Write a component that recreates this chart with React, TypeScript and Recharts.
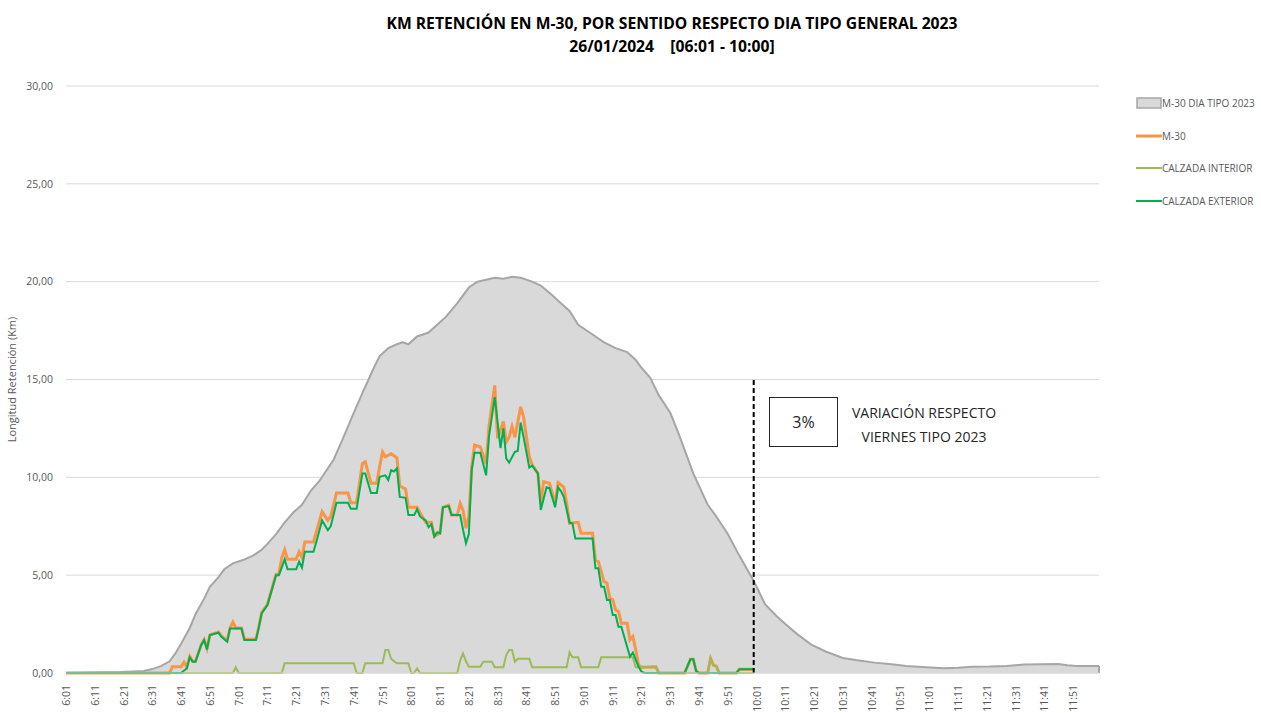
import React from "react";
import {
  ComposedChart,
  Area,
  Line,
  XAxis,
  YAxis,
  CartesianGrid,
  ReferenceLine,
} from "recharts";

if (typeof document !== "undefined") document.body.style.margin = "0";

// [hora, km]
const diaTipo2023: [string, number][] = [
  ["6:01", 0], ["6:20", 0.05], ["6:28", 0.1], ["6:31", 0.2], ["6:34", 0.35], ["6:37", 0.6],
  ["6:39", 1.0], ["6:41", 1.5], ["6:44", 2.3], ["6:46", 3.0], ["6:49", 3.8], ["6:51", 4.4],
  ["6:54", 4.9], ["6:56", 5.3], ["6:59", 5.6], ["7:03", 5.8], ["7:06", 6.0], ["7:09", 6.3],
  ["7:11", 6.6], ["7:14", 7.1], ["7:17", 7.7], ["7:20", 8.2], ["7:23", 8.6], ["7:26", 9.3],
  ["7:29", 9.8], ["7:34", 10.9], ["7:37", 11.9], ["7:41", 13.3], ["7:44", 14.3], ["7:48", 15.6],
  ["7:50", 16.2], ["7:53", 16.6], ["7:56", 16.8], ["7:58", 16.9], ["8:00", 16.8], ["8:03", 17.2],
  ["8:07", 17.4], ["8:10", 17.8], ["8:13", 18.2], ["8:17", 18.9], ["8:21", 19.7], ["8:24", 20.0],
  ["8:27", 20.1], ["8:30", 20.2], ["8:33", 20.15], ["8:36", 20.25], ["8:39", 20.2], ["8:43", 20.0],
  ["8:46", 19.8], ["8:50", 19.3], ["8:53", 18.9], ["8:56", 18.5], ["8:59", 17.8], ["9:03", 17.4],
  ["9:08", 16.9], ["9:12", 16.6], ["9:16", 16.4], ["9:19", 16.0], ["9:21", 15.6], ["9:24", 15.1],
  ["9:27", 14.2], ["9:31", 13.3], ["9:34", 12.2], ["9:39", 10.2], ["9:44", 8.6], ["9:47", 8.0],
  ["9:51", 7.1], ["9:55", 6.0], ["10:00", 4.7], ["10:04", 3.5], ["10:08", 2.9], ["10:11", 2.5],
  ["10:15", 2.0], ["10:20", 1.45], ["10:25", 1.1], ["10:31", 0.77], ["10:36", 0.65], ["10:42", 0.53],
  ["10:48", 0.45], ["10:53", 0.36], ["11:00", 0.3], ["11:06", 0.24], ["11:11", 0.27], ["11:16", 0.32],
  ["11:22", 0.33], ["11:28", 0.36], ["11:34", 0.44], ["11:40", 0.45], ["11:46", 0.46], ["11:49", 0.4],
  ["11:52", 0.36], ["12:00", 0.36],
];

const m30: [string, number][] = [
  ["6:01", 0], ["6:37", 0], ["6:38", 0.32], ["6:41", 0.32], ["6:42", 0.55], ["6:43", 0.3],
  ["6:44", 0.85], ["6:45", 0.6], ["6:46", 0.6], ["6:48", 1.45], ["6:49", 1.7], ["6:50", 1.25],
  ["6:51", 1.95], ["6:54", 2.1], ["6:55", 1.9], ["6:57", 1.65], ["6:58", 2.3], ["6:59", 2.6],
  ["7:00", 2.3], ["7:02", 2.3], ["7:03", 1.72], ["7:07", 1.72], ["7:08", 2.35], ["7:09", 3.1],
  ["7:11", 3.5], ["7:14", 5.05], ["7:15", 5.1], ["7:16", 5.9], ["7:17", 6.3], ["7:18", 5.81],
  ["7:21", 5.81], ["7:22", 6.2], ["7:23", 5.9], ["7:24", 6.7], ["7:27", 6.7], ["7:28", 7.2],
  ["7:30", 8.25], ["7:32", 7.8], ["7:33", 8.0], ["7:35", 9.2], ["7:39", 9.2], ["7:40", 8.7],
  ["7:42", 8.7], ["7:44", 10.7], ["7:45", 10.8], ["7:47", 9.7], ["7:49", 9.7], ["7:50", 10.55],
  ["7:51", 11.3], ["7:52", 11.05], ["7:54", 11.2], ["7:55", 11.1], ["7:56", 11.0], ["7:57", 9.56],
  ["7:59", 9.4], ["8:00", 8.47], ["8:03", 8.47], ["8:04", 8.2], ["8:06", 7.7], ["8:08", 7.7],
  ["8:09", 7.0], ["8:11", 7.14], ["8:12", 8.47], ["8:14", 8.58], ["8:15", 8.07], ["8:17", 8.07],
  ["8:18", 8.67], ["8:19", 8.3], ["8:20", 7.4], ["8:21", 8.0], ["8:22", 10.55], ["8:23", 11.65],
  ["8:25", 11.55], ["8:27", 10.7], ["8:28", 12.6], ["8:30", 14.7], ["8:31", 12.0], ["8:33", 12.85],
  ["8:34", 11.8], ["8:35", 12.05], ["8:36", 12.6], ["8:37", 12.05], ["8:39", 13.6], ["8:40", 13.1],
  ["8:42", 11.05], ["8:43", 10.65], ["8:45", 10.2], ["8:46", 8.67], ["8:47", 9.78], ["8:49", 9.7],
  ["8:51", 8.67], ["8:52", 9.73], ["8:54", 9.5], ["8:55", 8.67], ["8:56", 7.65], ["8:59", 7.7],
  ["9:00", 7.14], ["9:04", 7.14], ["9:05", 5.77], ["9:06", 5.7], ["9:07", 5.18], ["9:08", 4.67],
  ["9:09", 4.6], ["9:10", 3.82], ["9:11", 3.75], ["9:12", 3.22], ["9:13", 3.15], ["9:14", 2.54],
  ["9:16", 2.54], ["9:17", 1.69], ["9:18", 1.86], ["9:19", 1.18], ["9:20", 0.41], ["9:21", 0.3],
  ["9:26", 0.32], ["9:27", 0], ["9:36", 0], ["9:38", 0.7], ["9:39", 0.7], ["9:40", 0.1],
  ["9:41", 0], ["9:44", 0], ["9:45", 0.75], ["9:46", 0.4], ["9:47", 0.35], ["9:48", 0],
  ["9:54", 0], ["9:55", 0.19], ["10:00", 0.19],
];

const calzadaInterior: [string, number][] = [
  ["6:01", 0], ["6:59", 0], ["7:00", 0.29], ["7:01", 0], ["7:16", 0], ["7:17", 0.5],
  ["7:41", 0.5], ["7:42", 0], ["7:44", 0], ["7:45", 0.5], ["7:51", 0.5], ["7:52", 1.18],
  ["7:53", 1.18], ["7:54", 0.73], ["7:55", 0.6], ["7:56", 0.5], ["8:00", 0.5], ["8:01", 0],
  ["8:02", 0], ["8:03", 0.24], ["8:04", 0], ["8:17", 0], ["8:18", 0.66], ["8:19", 1.0],
  ["8:20", 0.6], ["8:21", 0.32], ["8:25", 0.32], ["8:26", 0.58], ["8:29", 0.58], ["8:30", 0.3],
  ["8:33", 0.3], ["8:34", 0.92], ["8:35", 1.18], ["8:36", 1.18], ["8:37", 0.58], ["8:38", 0.73],
  ["8:42", 0.73], ["8:43", 0.3], ["8:55", 0.3], ["8:56", 1.06], ["8:57", 0.8], ["8:59", 0.8],
  ["9:00", 0.3], ["9:06", 0.3], ["9:07", 0.8], ["9:18", 0.8], ["9:19", 0.3], ["9:26", 0.3],
  ["9:27", 0], ["9:44", 0], ["9:45", 0.75], ["9:46", 0.4], ["9:47", 0.35], ["9:48", 0],
  ["10:00", 0],
];

const calzadaExterior: [string, number][] = [
  ["6:01", 0], ["6:41", 0], ["6:43", 0.24], ["6:44", 0.8], ["6:45", 0.58], ["6:46", 0.58],
  ["6:48", 1.43], ["6:49", 1.69], ["6:50", 1.2], ["6:51", 1.94], ["6:54", 2.06], ["6:55", 1.85],
  ["6:57", 1.6], ["6:58", 2.28], ["7:02", 2.28], ["7:03", 1.69], ["7:07", 1.69], ["7:08", 2.32],
  ["7:09", 3.05], ["7:11", 3.47], ["7:14", 5.0], ["7:15", 5.0], ["7:17", 5.81], ["7:18", 5.3],
  ["7:21", 5.3], ["7:22", 5.69], ["7:23", 5.38], ["7:24", 6.2], ["7:27", 6.2], ["7:28", 6.7],
  ["7:30", 7.8], ["7:32", 7.3], ["7:33", 7.5], ["7:35", 8.7], ["7:39", 8.7], ["7:40", 8.4],
  ["7:42", 8.4], ["7:44", 10.2], ["7:45", 10.2], ["7:47", 9.2], ["7:49", 9.2], ["7:50", 10.03],
  ["7:52", 10.1], ["7:53", 9.86], ["7:54", 10.37], ["7:55", 10.3], ["7:56", 10.46], ["7:57", 9.0],
  ["7:59", 8.95], ["8:00", 8.07], ["8:02", 8.07], ["8:03", 8.37], ["8:04", 8.0], ["8:06", 7.8],
  ["8:07", 7.45], ["8:08", 7.6], ["8:09", 6.97], ["8:10", 7.2], ["8:11", 7.14], ["8:12", 8.47],
  ["8:14", 8.53], ["8:15", 8.07], ["8:18", 8.07], ["8:19", 7.3], ["8:20", 6.63], ["8:21", 7.1],
  ["8:22", 10.37], ["8:23", 11.26], ["8:25", 11.26], ["8:27", 10.1], ["8:28", 12.08], ["8:30", 14.1],
  ["8:32", 11.5], ["8:33", 12.5], ["8:34", 10.97], ["8:35", 10.75], ["8:37", 11.3], ["8:38", 11.35],
  ["8:39", 12.8], ["8:40", 12.08], ["8:42", 10.5], ["8:43", 10.6], ["8:45", 10.2], ["8:46", 8.33],
  ["8:48", 9.49], ["8:49", 9.45], ["8:51", 8.47], ["8:52", 9.49], ["8:53", 9.3], ["8:54", 9.0],
  ["8:56", 7.68], ["8:57", 7.65], ["8:58", 6.88], ["9:04", 6.88], ["9:05", 5.35], ["9:06", 5.35],
  ["9:07", 4.41], ["9:08", 4.41], ["9:09", 3.73], ["9:10", 3.73], ["9:11", 2.96], ["9:12", 2.96],
  ["9:13", 2.37], ["9:14", 2.37], ["9:16", 1.34], ["9:17", 0.83], ["9:18", 1.04], ["9:20", 0.32],
  ["9:21", 0.07], ["9:22", 0], ["9:36", 0], ["9:38", 0.7], ["9:39", 0.7], ["9:40", 0.1],
  ["9:41", 0], ["9:54", 0], ["9:55", 0.19], ["10:00", 0.19],
];

const xTickLabels = [
  "6:01", "6:11", "6:21", "6:31", "6:41", "6:51", "7:01", "7:11", "7:21", "7:31", "7:41", "7:51",
  "8:01", "8:11", "8:21", "8:31", "8:41", "8:51", "9:01", "9:11", "9:21", "9:31", "9:41", "9:51",
  "10:01", "10:11", "10:21", "10:31", "10:41", "10:51", "11:01", "11:11", "11:21", "11:31", "11:41", "11:51",
];
const yTicks = [0, 5, 10, 15, 20, 25, 30];

const finDatos = "10:00";
const variacion = "3%";

// minutos desde las 6:00
const toMin = (h: string) => {
  const [hh, mm] = h.split(":").map(Number);
  return (hh - 6) * 60 + mm;
};
const fromMin = (m: number) => {
  const hh = 6 + Math.floor(m / 60);
  const mm = m % 60;
  return `${hh}:${mm < 10 ? "0" : ""}${mm}`;
};
const toPoints = (serie: [string, number][]) => serie.map(([h, v]) => ({ t: toMin(h), v }));

const FONT = "'Open Sans', sans-serif";
const GREY_TEXT = "#595959";

const legendItems = [
  { name: "M-30 DIA TIPO 2023", color: "#a6a6a6", type: "area", width: 1.5 },
  { name: "M-30", color: "#f79646", type: "line", width: 3 },
  { name: "CALZADA INTERIOR", color: "#9bbb59", type: "line", width: 2 },
  { name: "CALZADA EXTERIOR", color: "#00b050", type: "line", width: 2 },
];

function XTick({ x, y, payload }: any) {
  return (
    <g transform={`translate(${x},${y + 4})`}>
      <text
        x={0}
        y={0}
        dy={4}
        textAnchor="end"
        transform="rotate(-90)"
        fill={GREY_TEXT}
        fontSize={10.5}
        fontFamily={FONT}
      >
        {fromMin(payload.value)}
      </text>
    </g>
  );
}

function LegendBox() {
  return (
    <div
      style={{
        position: "absolute",
        left: 1136,
        top: 95,
        display: "flex",
        flexDirection: "column",
        gap: 16.5,
        fontFamily: FONT,
      }}
    >
      {legendItems.map((it) => (
        <div key={it.name} style={{ display: "flex", alignItems: "center", height: 16 }}>
          <svg width={26} height={12} style={{ flexShrink: 0 }}>
            {it.type === "area" ? (
              <rect x={1} y={1} width={24} height={10} fill="#d9d9d9" stroke={it.color} strokeWidth={it.width} />
            ) : (
              <line x1={0} y1={6} x2={26} y2={6} stroke={it.color} strokeWidth={it.width} />
            )}
          </svg>
          <span style={{ fontSize: 10, color: GREY_TEXT, whiteSpace: "nowrap" }}>{it.name}</span>
        </div>
      ))}
    </div>
  );
}

export default function App() {
  const xTicks = xTickLabels.map(toMin);
  const ultimo = diaTipo2023[diaTipo2023.length - 1];
  return (
    <div style={{ position: "relative", width: 1261, height: 713, background: "#fff", fontFamily: FONT }}>
      <div
        style={{
          position: "absolute",
          top: 12,
          left: 372,
          width: 600,
          textAlign: "center",
          fontWeight: 700,
          fontSize: 15.7,
          lineHeight: "23px",
          color: "#000",
          whiteSpace: "pre",
        }}
      >
        {"KM RETENCIÓN EN M-30, POR SENTIDO RESPECTO DIA TIPO GENERAL 2023\n26/01/2024    [06:01 - 10:00]"}
      </div>

      <ComposedChart width={1261} height={713} margin={{ top: 86, right: 162, bottom: 0, left: 0 }}>
        <CartesianGrid vertical={false} stroke="#d9d9d9" />
        <XAxis
          type="number"
          dataKey="t"
          domain={[1, 360]}
          ticks={xTicks}
          interval={0}
          tick={<XTick />}
          tickLine={false}
          axisLine={{ stroke: "#d9d9d9" }}
          height={40}
          allowDataOverflow
        />
        <YAxis
          domain={[0, 30]}
          ticks={yTicks}
          width={66}
          tickLine={false}
          axisLine={false}
          tickMargin={7}
          tickFormatter={(v: number) => v.toFixed(2).replace(".", ",")}
          tick={{ fill: GREY_TEXT, fontSize: 10.5, fontFamily: FONT }}
          label={{
            value: "Longitud Retención (Km)",
            angle: -90,
            position: "insideLeft",
            offset: 12,
            style: { textAnchor: "middle", fill: GREY_TEXT, fontSize: 11, fontFamily: FONT },
          }}
        />
        <Area
          data={toPoints(diaTipo2023)}
          dataKey="v"
          type="linear"
          fill="#d9d9d9"
          fillOpacity={1}
          stroke="#a6a6a6"
          strokeWidth={2}
          dot={false}
          activeDot={false}
          isAnimationActive={false}
        />
        {/* borde derecho del área */}
        <ReferenceLine
          segment={[
            { x: toMin(ultimo[0]), y: 0 },
            { x: toMin(ultimo[0]), y: ultimo[1] },
          ]}
          stroke="#a6a6a6"
          strokeWidth={2}
        />
        <Line
          data={toPoints(m30)}
          dataKey="v"
          type="linear"
          stroke="#f79646"
          strokeWidth={3}
          dot={false}
          activeDot={false}
          isAnimationActive={false}
        />
        <Line
          data={toPoints(calzadaInterior)}
          dataKey="v"
          type="linear"
          stroke="#9bbb59"
          strokeWidth={2}
          dot={false}
          activeDot={false}
          isAnimationActive={false}
        />
        <Line
          data={toPoints(calzadaExterior)}
          dataKey="v"
          type="linear"
          stroke="#00b050"
          strokeWidth={2}
          dot={false}
          activeDot={false}
          isAnimationActive={false}
        />
        <ReferenceLine
          segment={[
            { x: toMin(finDatos), y: 0 },
            { x: toMin(finDatos), y: 15 },
          ]}
          stroke="#000"
          strokeWidth={2}
          strokeDasharray="5 3"
        />
      </ComposedChart>

      <LegendBox />

      <div
        style={{
          position: "absolute",
          left: 769,
          top: 397,
          width: 67,
          height: 48,
          border: "1px solid #262626",
          display: "flex",
          alignItems: "center",
          justifyContent: "center",
          fontSize: 16,
          color: "#262626",
          background: "#fff",
        }}
      >
        {variacion}
      </div>
      <div
        style={{
          position: "absolute",
          left: 824,
          top: 401,
          width: 200,
          textAlign: "center",
          fontSize: 14,
          lineHeight: "24px",
          color: "#262626",
          whiteSpace: "nowrap",
        }}
      >
        VARIACIÓN RESPECTO
        <br />
        VIERNES TIPO 2023
      </div>
    </div>
  );
}
